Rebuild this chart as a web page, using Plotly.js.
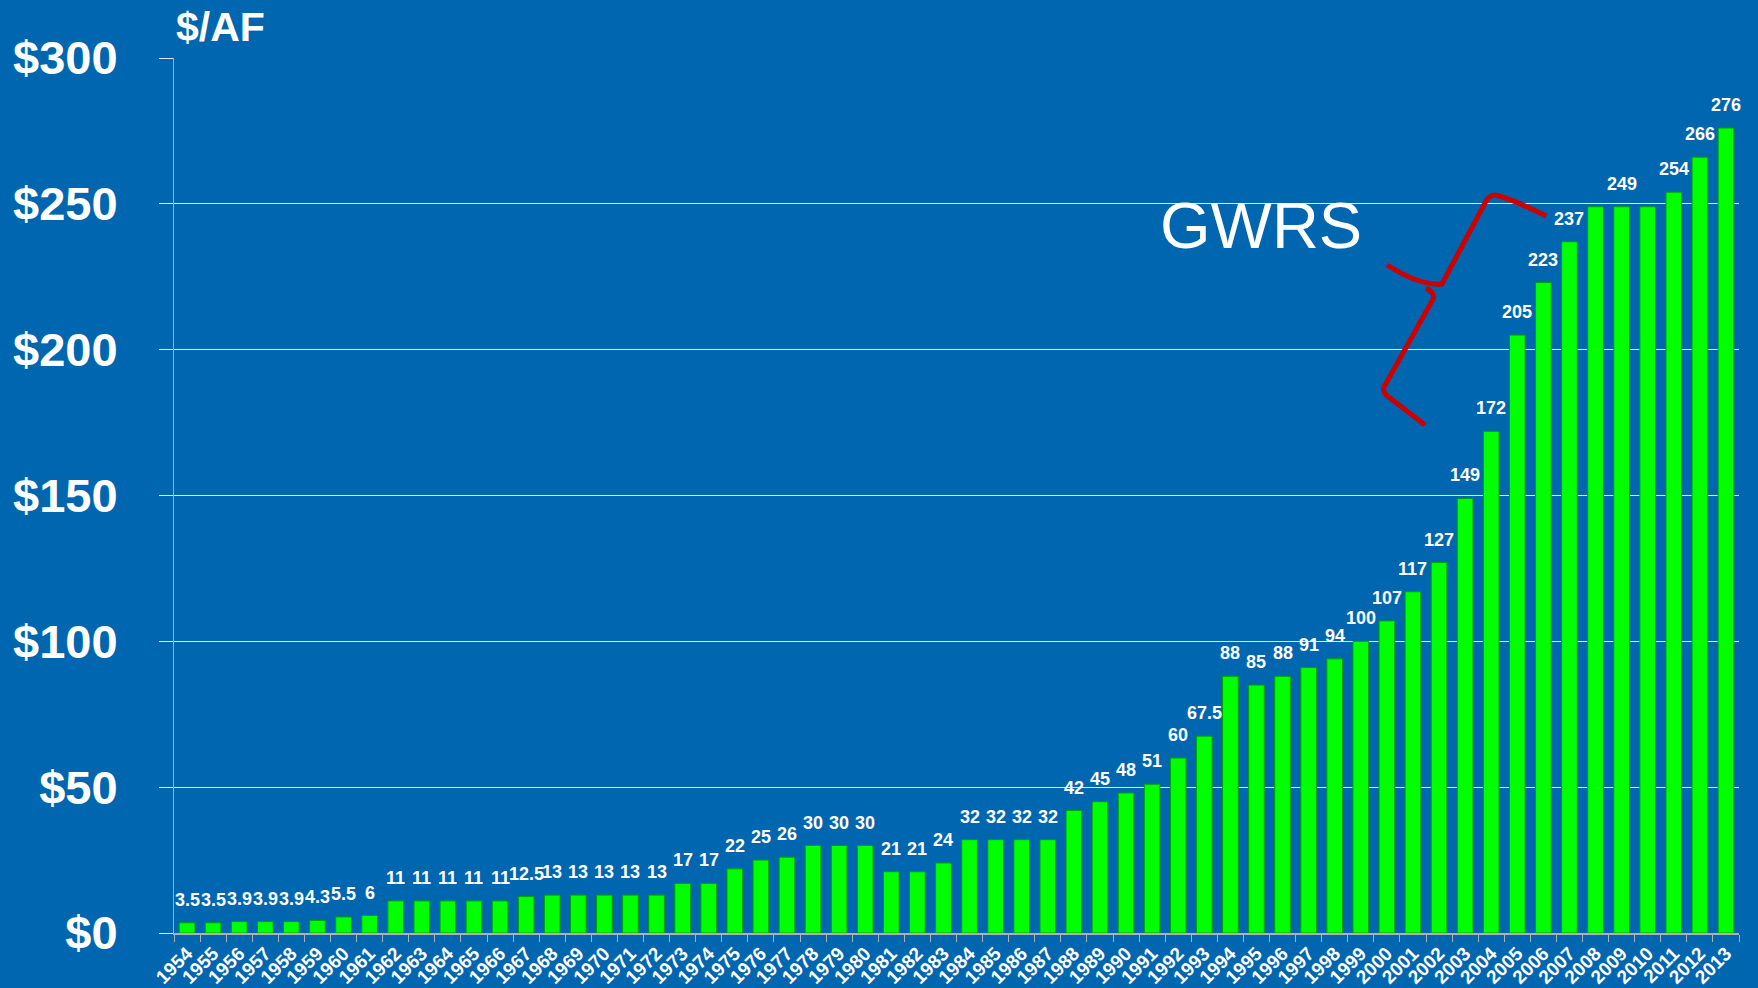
<!DOCTYPE html>
<html>
<head>
<meta charset="utf-8">
<script src="https://cdn.plot.ly/plotly-3.0.1.min.js"></script>
<style>
html,body{margin:0;padding:0;background:#0066AF;}
#chart{width:1758px;height:988px;}
</style>
</head>
<body>
<div id="chart"></div>
<script>
const years = ['1954','1955','1956','1957','1958','1959','1960','1961','1962','1963',
  '1964','1965','1966','1967','1968','1969','1970','1971','1972','1973',
  '1974','1975','1976','1977','1978','1979','1980','1981','1982','1983',
  '1984','1985','1986','1987','1988','1989','1990','1991','1992','1993',
  '1994','1995','1996','1997','1998','1999','2000','2001','2002','2003',
  '2004','2005','2006','2007','2008','2009','2010','2011','2012','2013'];
const costPerAF = [3.5,3.5,3.9,3.9,3.9,4.3,5.5,6,11,11,
  11,11,11,12.5,13,13,13,13,13,17,
  17,22,25,26,30,30,30,21,21,24,
  32,32,32,32,42,45,48,51,60,67.5,
  88,85,88,91,94,100,107,117,127,149,
  172,205,223,237,249,249,249,254,266,276];
const valueLabels = ['3.5','3.5','3.9','3.9','3.9','4.3','5.5','6','11','11',
  '11','11','11','12.5','13','13','13','13','13','17',
  '17','22','25','26','30','30','30','21','21','24',
  '32','32','32','32','42','45','48','51','60','67.5',
  '88','85','88','91','94','100','107','117','127','149',
  '172','205','223','237','','249','','254','266','276'];
const yTickVals = [0,50,100,150,200,250,300];
const yTickText = ['$0','$50','$100','$150','$200','$250','$300'];
const unitLabel = '$/AF';
const noteLabel = 'GWRS';

const FONT = 'Liberation Sans, Arial, sans-serif';
const W = 1758, H = 988;
const M = {l:174, r:19, t:58, b:55};
const PW = W - M.l - M.r, PH = H - M.t - M.b;
function px(x){ return (x - M.l) / PW; }
function py(y){ return (H - M.b - y) / PH; }

// red brace drawn over the plot (pixel positions converted to paper units)
function p(x,y){ return px(x).toFixed(5) + ',' + py(y).toFixed(5); }
const bracePath =
  'M' + p(1546,216) + ' Q' + p(1510,198) + ' ' + p(1495,195) +
  ' Q' + p(1490,195) + ' ' + p(1486,201) +
  ' L' + p(1442,284) +
  ' Q' + p(1420,286) + ' ' + p(1387,265) +
  ' M' + p(1426,288) + ' Q' + p(1437,294) + ' ' + p(1432,301) +
  ' L' + p(1384,387) +
  ' Q' + p(1382,393) + ' ' + p(1390,398) +
  ' L' + p(1425,425);

const bars = {
  type: 'bar',
  x: years,
  y: costPerAF,
  marker: {color: '#00FF00', line: {color: '#00A000', width: 1}},
  hoverinfo: 'x+y'
};

// value labels: x given as category index
const labelAnnotations = years.map((yr, i) => ({
  x: i, y: costPerAF[i], xref: 'x', yref: 'y',
  text: valueLabels[i], showarrow: false,
  xanchor: 'center', yanchor: 'bottom', yshift: 11,
  font: {family: FONT, size: 18, color: '#FFFFFF', weight: 'bold'}
}));

const layout = {
  width: W, height: H,
  paper_bgcolor: '#0066AF',
  plot_bgcolor: '#0066AF',
  margin: M,
  bargap: 0.4,
  showlegend: false,
  xaxis: {
    type: 'category',
    range: [-0.5, years.length - 0.5],
    tickangle: -45,
    tickson: 'boundaries',
    ticks: 'outside', ticklen: 7, tickcolor: '#B0B0B0', tickwidth: 1,
    showline: true, linecolor: '#B0B0B0', linewidth: 2,
    showgrid: false,
    automargin: false,
    tickfont: {family: FONT, size: 19, color: '#FFFFFF', weight: 'bold'}
  },
  yaxis: {
    range: [0, 300],
    tickvals: yTickVals, ticktext: yTickText,
    ticks: 'outside', ticklen: 14, tickcolor: '#E6E6E6', tickwidth: 1,
    ticklabelstandoff: 32,
    showline: true, linecolor: '#A8A8A8', linewidth: 1,
    showgrid: true, gridcolor: '#E6E6E6', gridwidth: 1,
    zeroline: false,
    automargin: false,
    tickfont: {family: FONT, size: 47, color: '#FFFFFF', weight: 'bold'}
  },
  annotations: labelAnnotations.concat([
    {xref: 'paper', yref: 'paper', x: 0, y: 1, xanchor: 'left', yanchor: 'bottom',
     yshift: 6, showarrow: false, text: unitLabel,
     font: {family: FONT, size: 41, color: '#FFFFFF', weight: 'bold'}},
    {xref: 'paper', yref: 'paper', x: px(1158), y: py(226), xanchor: 'left', yanchor: 'middle',
     showarrow: false, text: noteLabel,
     font: {family: FONT, size: 65, color: '#FFFFFF'}}
  ]),
  shapes: [
    {type: 'path', xref: 'paper', yref: 'paper', path: bracePath,
     line: {color: '#CC0000', width: 5}}
  ]
};

Plotly.newPlot('chart', [bars], layout, {displayModeBar: false});
</script>
</body>
</html>
